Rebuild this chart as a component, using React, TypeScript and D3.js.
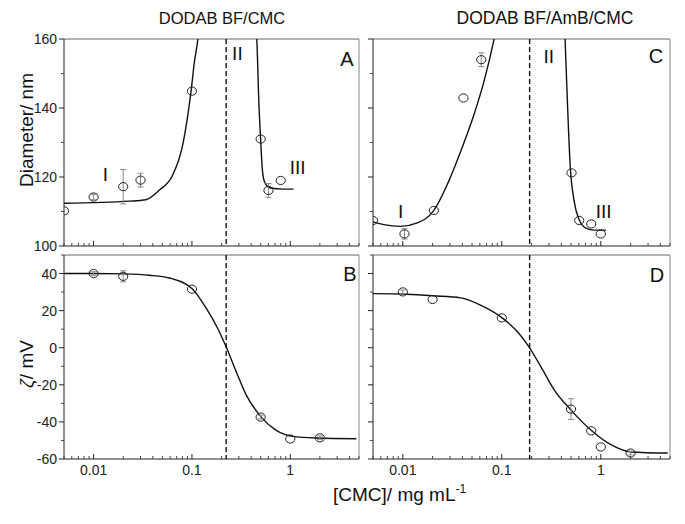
import React from 'react';
import * as d3 from 'd3';

// ---------- data ----------
const xDomain: [number, number] = [0.005, 5];
const xMajorTicks = [0.01, 0.1, 1];
const xTickLabels = ['0.01', '0.1', '1'];
const diamDomain: [number, number] = [100, 160];
const diamTicks = [100, 120, 140, 160];
const zetaDomain: [number, number] = [-60, 50];
const zetaTicks = [-60, -40, -20, 0, 20, 40];

// Panel A: DODAB BF/CMC diameter
const cmcA = [0.005, 0.01, 0.02, 0.03, 0.1, 0.5, 0.6, 0.8];
const diamA = [110.2, 114.2, 117.2, 119.1, 144.9, 131, 116.1, 119];
const diamAErr = [0, 0.8, 5, 2, 0, 0, 2, 0];
const fitA1X = [0.005, 0.0231, 0.034, 0.0467, 0.0638, 0.0806, 0.098, 0.106, 0.1146, 0.118];
const fitA1Y = [112.4, 113.0, 113.4, 116.2, 120.6, 129.3, 144.9, 153.4, 159.7, 163];
const fitA2X = [0.452, 0.457, 0.479, 0.499, 0.519, 0.547, 0.615, 0.841, 1.08];
const fitA2Y = [162, 159.7, 141.8, 131.2, 122.5, 118.6, 116.9, 116.5, 116.5];
const dashA = 0.223;

// Panel B: DODAB BF/CMC zeta
const cmcB = [0.01, 0.02, 0.1, 0.5, 1, 2];
const zetaB = [40, 38.5, 31.6, -37.4, -49.2, -48.6];
const zetaBErr = [1, 3, 0, 1, 0, 1];
const fitBX = [0.005, 0.01, 0.02, 0.0369, 0.059, 0.1, 0.14, 0.183, 0.226, 0.282, 0.356, 0.507, 0.72, 1.06, 1.84, 4.7];
const fitBY = [40, 40, 39.8, 39.1, 37.6, 31.9, 21.2, 10.4, -0.3, -12.9, -25.4, -37.4, -44.6, -47.8, -48.7, -49.1];

// Panel C: DODAB BF/AmB/CMC diameter
const cmcC = [0.005, 0.0104, 0.0206, 0.041, 0.062, 0.506, 0.605, 0.8, 1];
const diamC = [107.4, 103.5, 110.3, 142.9, 154, 121.2, 107.4, 106.4, 103.5];
const diamCErr = [0, 1.5, 0, 0, 2, 0, 0, 0, 0];
const fitC1X = [0.005, 0.00643, 0.0095, 0.014, 0.0206, 0.0281, 0.0384, 0.0524, 0.0661, 0.0834, 0.088];
const fitC1Y = [107.0, 106.2, 105.7, 106.7, 110.3, 117.8, 127.4, 138.1, 147.7, 159.8, 163];
const fitC2X = [0.432, 0.436, 0.461, 0.49, 0.538, 0.604, 0.706, 0.857, 1.13];
const fitC2Y = [163, 159.8, 141, 123.6, 113, 107.6, 105.2, 104.6, 104.6];
const dashC = 0.191;

// Panel D: DODAB BF/AmB/CMC zeta
const cmcD = [0.01, 0.02, 0.1, 0.5, 0.8, 1, 2];
const zetaD = [30.1, 26, 16.1, -33.1, -44.8, -53.5, -56.8];
const zetaDErr = [1, 0, 0, 5.6, 0, 0, 1];
const fitDX = [0.005, 0.01, 0.02, 0.0384, 0.061, 0.101, 0.144, 0.188, 0.248, 0.338, 0.498, 0.826, 1.265, 2.02, 4.74];
const fitDY = [29.2, 29.0, 28.0, 26.9, 23, 16.1, 8.6, 0.5, -10.2, -22.7, -33.5, -45.2, -52.3, -56.2, -56.8];

// region labels [text, x, y]
const romanA: [string, number, number][] = [['I', 0.0132, 118.8], ['II', 0.29, 153.9], ['III', 1.19, 120.9]];
const romanC: [string, number, number][] = [['I', 0.0095, 108.2], ['II', 0.298, 153.1], ['III', 1.07, 108.0]];

const FONT = '"Liberation Sans", Arial, Helvetica, sans-serif';

type PanelProps = {
  id: string;
  x0: number; x1: number; y0: number; y1: number;
  yDomain: [number, number];
  yTicks: number[];
  yMinorStep: number;
  showYLabels: boolean;
  showXLabels: boolean;
  px: number[]; py: number[]; perr: number[];
  fits: [number[], number[]][];
  dash: number;
  romans: [string, number, number][];
  letter: string;
  letterPos: [number, number];
};

function Panel(p: PanelProps) {
  const xs = d3.scaleLog().domain(xDomain).range([p.x0, p.x1]);
  const ys = d3.scaleLinear().domain(p.yDomain).range([p.y1, p.y0]);
  const minorX = xs.ticks().filter((t) => !xMajorTicks.some((m) => Math.abs(m - t) < 1e-9));
  const minorY = d3.range(p.yDomain[0], p.yDomain[1] + 0.001, p.yMinorStep).filter((v) => !p.yTicks.includes(v));
  const line = d3
    .line<[number, number]>()
    .x((d) => xs(d[0]))
    .y((d) => ys(d[1]))
    .curve(d3.curveMonotoneX);
  const clipId = 'clip-' + p.id;
  return (
    <g>
      <defs>
        <clipPath id={clipId}>
          <rect x={p.x0} y={p.y0} width={p.x1 - p.x0} height={p.y1 - p.y0} />
        </clipPath>
      </defs>
      {/* frame */}
      <line x1={p.x0} x2={p.x1} y1={p.y0} y2={p.y0} stroke="#666" strokeWidth={1} />
      <line x1={p.x1} x2={p.x1} y1={p.y0} y2={p.y1} stroke="#888" strokeWidth={1} />
      <line x1={p.x0} x2={p.x0} y1={p.y0} y2={p.y1} stroke="#222" strokeWidth={1} />
      <line x1={p.x0} x2={p.x1} y1={p.y1} y2={p.y1} stroke="#222" strokeWidth={1} />
      {/* x ticks inward */}
      {xMajorTicks.map((t) => (
        <line key={'xM' + t} x1={xs(t)} x2={xs(t)} y1={p.y1} y2={p.y1 - 5} stroke="#222" />
      ))}
      {minorX.map((t) => (
        <line key={'xm' + t} x1={xs(t)} x2={xs(t)} y1={p.y1} y2={p.y1 - 3} stroke="#444" />
      ))}
      {p.showXLabels &&
        xMajorTicks.map((t, i) => (
          <text key={'xl' + t} x={xs(t)} y={p.y1 + 16} textAnchor="middle" fontSize={14} fontFamily={FONT} fill="#222">
            {xTickLabels[i]}
          </text>
        ))}
      {/* y ticks outward */}
      {p.yTicks.map((t) => (
        <line key={'yM' + t} x1={p.x0} x2={p.x0 - 5} y1={ys(t)} y2={ys(t)} stroke="#222" />
      ))}
      {minorY.map((t) => (
        <line key={'ym' + t} x1={p.x0} x2={p.x0 - 3} y1={ys(t)} y2={ys(t)} stroke="#444" />
      ))}
      {p.showYLabels &&
        p.yTicks.map((t) => (
          <text key={'yl' + t} x={p.x0 - 7} y={ys(t) + 5} textAnchor="end" fontSize={14} fontFamily={FONT} fill="#222">
            {t}
          </text>
        ))}
      <g clipPath={`url(#${clipId})`}>
        {/* dashed divider */}
        <line x1={xs(p.dash)} x2={xs(p.dash)} y1={p.y0} y2={p.y1} stroke="#111" strokeWidth={1.4} strokeDasharray="5,3" />
        {/* fits */}
        {p.fits.map(([fx, fy], i) => (
          <path
            key={'fit' + i}
            d={line(fx.map((v, j) => [v, fy[j]] as [number, number])) || ''}
            fill="none"
            stroke="#111"
            strokeWidth={1.4}
          />
        ))}
        {/* error bars */}
        {p.px.map((v, i) =>
          p.perr[i] > 0 ? (
            <g key={'err' + i} stroke="#888" strokeWidth={1}>
              <line x1={xs(v)} x2={xs(v)} y1={ys(p.py[i] - p.perr[i])} y2={ys(p.py[i] + p.perr[i])} />
              <line x1={xs(v) - 3} x2={xs(v) + 3} y1={ys(p.py[i] - p.perr[i])} y2={ys(p.py[i] - p.perr[i])} />
              <line x1={xs(v) - 3} x2={xs(v) + 3} y1={ys(p.py[i] + p.perr[i])} y2={ys(p.py[i] + p.perr[i])} />
            </g>
          ) : null
        )}
        {/* markers */}
        {p.px.map((v, i) => (
          <ellipse key={'pt' + i} cx={xs(v)} cy={ys(p.py[i])} rx={4.6} ry={4.1} fill="none" stroke="#222" strokeWidth={1} />
        ))}
      </g>
      {p.romans.map(([t, x, y]) => (
        <text key={'r' + t} x={xs(x)} y={ys(y)} textAnchor="middle" fontSize={19} fontFamily={FONT} fill="#111">
          {t}
        </text>
      ))}
      <text x={p.letterPos[0]} y={p.letterPos[1]} textAnchor="middle" fontSize={20} fontFamily={FONT} fill="#111">
        {p.letter}
      </text>
    </g>
  );
}

const zip = (a: number[], b: number[]): [number[], number[]] => [a, b];

export default function App() {
  const L = { x0: 64, x1: 359 };
  const R = { x0: 373, x1: 670 };
  const T = { y0: 39, y1: 246 };
  const Bt = { y0: 255, y1: 459 };
  return (
    <svg width={685} height={524} style={{ position: 'absolute', left: 0, top: 0, background: '#fff' }}>
      <rect x={0} y={0} width={685} height={524} fill="#fff" />
      <text x={222} y={24} textAnchor="middle" fontSize={16.5} fontFamily={FONT} fill="#111">DODAB BF/CMC</text>
      <text x={545} y={24} textAnchor="middle" fontSize={17.5} fontFamily={FONT} fill="#111">DODAB BF/AmB/CMC</text>
      <Panel
        id="A" {...L} {...T} yDomain={diamDomain} yTicks={diamTicks} yMinorStep={10}
        showYLabels showXLabels={false}
        px={cmcA} py={diamA} perr={diamAErr}
        fits={[zip(fitA1X, fitA1Y), zip(fitA2X, fitA2Y)]}
        dash={dashA} romans={romanA} letter="A" letterPos={[347, 66]}
      />
      <Panel
        id="B" {...L} {...Bt} yDomain={zetaDomain} yTicks={zetaTicks} yMinorStep={10}
        showYLabels showXLabels
        px={cmcB} py={zetaB} perr={zetaBErr}
        fits={[zip(fitBX, fitBY)]}
        dash={dashA} romans={[]} letter="B" letterPos={[350, 281]}
      />
      <Panel
        id="C" {...R} {...T} yDomain={diamDomain} yTicks={diamTicks} yMinorStep={10}
        showYLabels={false} showXLabels={false}
        px={cmcC} py={diamC} perr={diamCErr}
        fits={[zip(fitC1X, fitC1Y), zip(fitC2X, fitC2Y)]}
        dash={dashC} romans={romanC} letter="C" letterPos={[656, 63]}
      />
      <Panel
        id="D" {...R} {...Bt} yDomain={zetaDomain} yTicks={zetaTicks} yMinorStep={10}
        showYLabels={false} showXLabels
        px={cmcD} py={zetaD} perr={zetaDErr}
        fits={[zip(fitDX, fitDY)]}
        dash={dashC} romans={[]} letter="D" letterPos={[657, 282]}
      />
      <text transform="translate(33,130) rotate(-90)" textAnchor="middle" fontSize={19} fontFamily={FONT} fill="#111">
        Diameter/ nm
      </text>
      <text transform="translate(33,364) rotate(-90)" textAnchor="middle" fontSize={19} fontFamily={FONT} fill="#111">
        <tspan fontStyle="italic">ζ</tspan>
        <tspan>/ mV</tspan>
      </text>
      <text x={333} y={501} fontSize={19} fontFamily={FONT} fill="#111">
        <tspan>[CMC]/ mg mL</tspan>
        <tspan dy={-8} fontSize={12}>-1</tspan>
      </text>
    </svg>
  );
}
